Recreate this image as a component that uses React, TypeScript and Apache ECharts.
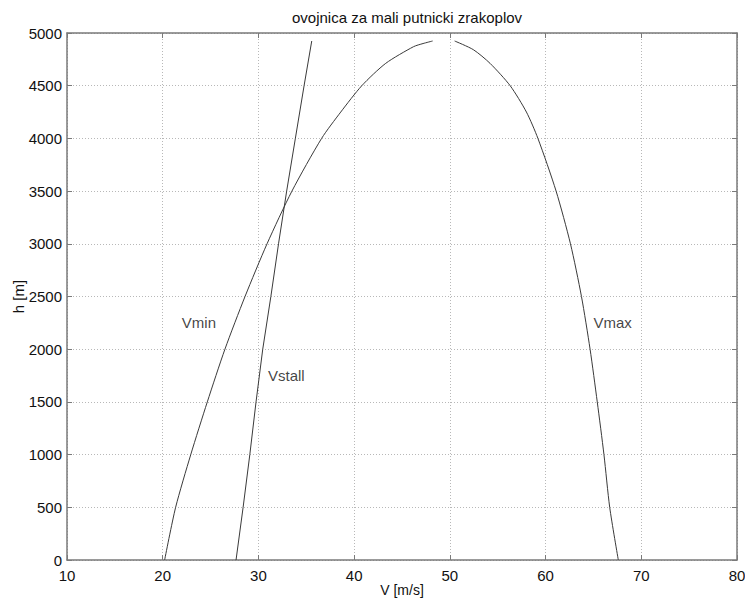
import React, { useEffect, useRef } from "react";
import * as echarts from "echarts";

const titleText = "ovojnica za mali putnicki zrakoplov";
const xName = "V [m/s]";
const yName = "h [m]";

const vminH = [0, 500, 1000, 1500, 2000, 2500, 3000, 3500, 4000, 4250, 4500, 4712, 4870, 4900, 4924];
const vminV = [20.2, 21.35, 22.93, 24.66, 26.5, 28.6, 30.9, 33.5, 36.6, 38.6, 40.8, 43.3, 46.2, 47.2, 48.2];

const vstallH = [0, 500, 1000, 1500, 2000, 2500, 3000, 3500, 4000, 4500, 4924];
const vstallV = [27.66, 28.4, 29.1, 29.75, 30.45, 31.3, 32.1, 32.95, 33.86, 34.77, 35.57];

const vmaxH = [0, 500, 1000, 1500, 2000, 2500, 3000, 3500, 4000, 4250, 4500, 4712, 4842, 4924];
const vmaxV = [67.6, 66.7, 66.1, 65.4, 64.65, 63.75, 62.6, 61.1, 59.2, 58.0, 56.3, 54.2, 52.45, 50.5];

const labelNames = ["Vmin", "Vstall", "Vmax"];
const labelV = [22, 31, 65];
const labelH = [2250, 1750, 2250];

const FONT = "'Liberation Sans', Arial, Helvetica, sans-serif";

export default function App() {
  const ref = useRef<HTMLDivElement>(null);
  useEffect(() => {
    if (!ref.current) return;
    const chart = echarts.init(ref.current, null, { renderer: "svg" });
    const pair = (xs: number[], ys: number[]) => xs.map((v, i) => [v, ys[i]]);
    const lineStyle = { color: "#3a3a3a", width: 1 };
    const axisCommon = {
      type: "value" as const,
      axisLine: { show: true, onZero: false, lineStyle: { color: "#7a7a7a", width: 1.5 } },
      axisTick: { show: true, inside: true, length: 5, lineStyle: { color: "#7a7a7a" } },
    };
    const plain = (v: number) => String(v);
    chart.setOption({
      animation: false,
      backgroundColor: "#ffffff",
      textStyle: { fontFamily: FONT },
      title: {
        text: titleText,
        left: 402,
        top: 5,
        textAlign: "center",
        textStyle: { fontFamily: FONT, fontSize: 15, fontWeight: "normal", color: "#111" },
      },
      grid: {
        left: 67,
        top: 33,
        width: 670,
        height: 527,
        containLabel: false,
        outerBoundsMode: "none",
      },
      xAxis: [
        {
          ...axisCommon,
          position: "bottom",
          min: 10,
          max: 80,
          interval: 10,
          name: xName,
          nameLocation: "middle",
          nameGap: 23,
          nameMoveOverlap: false,
          nameTextStyle: { fontFamily: FONT, fontSize: 14, color: "#111", lineHeight: 14 },
          axisLabel: {
            fontFamily: FONT,
            fontSize: 15,
            lineHeight: 15,
            color: "#111",
            margin: 8,
            formatter: plain,
          },
          splitLine: { show: true, lineStyle: { color: "#b8b8b8", type: [1, 2], width: 1 } },
        },
        {
          ...axisCommon,
          position: "top",
          min: 10,
          max: 80,
          interval: 10,
          axisLabel: { show: false },
          splitLine: { show: false },
        },
      ],
      yAxis: [
        {
          ...axisCommon,
          position: "left",
          min: 0,
          max: 5000,
          interval: 500,
          name: yName,
          nameLocation: "middle",
          nameGap: 41,
          nameMoveOverlap: false,
          nameTextStyle: { fontFamily: FONT, fontSize: 15, color: "#111" },
          axisLabel: { fontFamily: FONT, fontSize: 15, color: "#111", margin: 5, formatter: plain },
          splitLine: { show: true, lineStyle: { color: "#b8b8b8", type: [1, 2], width: 1 } },
        },
        {
          ...axisCommon,
          position: "right",
          min: 0,
          max: 5000,
          interval: 500,
          axisLabel: { show: false },
          splitLine: { show: false },
        },
      ],
      series: [
        {
          name: "Vmin",
          type: "line",
          data: pair(vminV, vminH),
          showSymbol: false,
          smooth: 0.25,
          lineStyle,
          itemStyle: { color: "#3a3a3a" },
        },
        {
          name: "Vstall",
          type: "line",
          data: pair(vstallV, vstallH),
          showSymbol: false,
          lineStyle,
          itemStyle: { color: "#3a3a3a" },
        },
        {
          name: "Vmax",
          type: "line",
          data: pair(vmaxV, vmaxH),
          showSymbol: false,
          smooth: 0.25,
          lineStyle,
          itemStyle: { color: "#3a3a3a" },
        },
        {
          name: "labels",
          type: "scatter",
          symbolSize: 0,
          data: labelNames.map((n, i) => ({ name: n, value: [labelV[i], labelH[i]] })),
          label: {
            show: true,
            position: "right",
            distance: 0,
            formatter: "{b}",
            fontFamily: FONT,
            fontSize: 15,
            color: "#111",
          },
          silent: true,
        },
      ],
    });
    return () => chart.dispose();
  }, []);
  return (
    <div
      ref={ref}
      style={{ position: "absolute", left: 0, top: 0, width: 745, height: 598 }}
    />
  );
}
